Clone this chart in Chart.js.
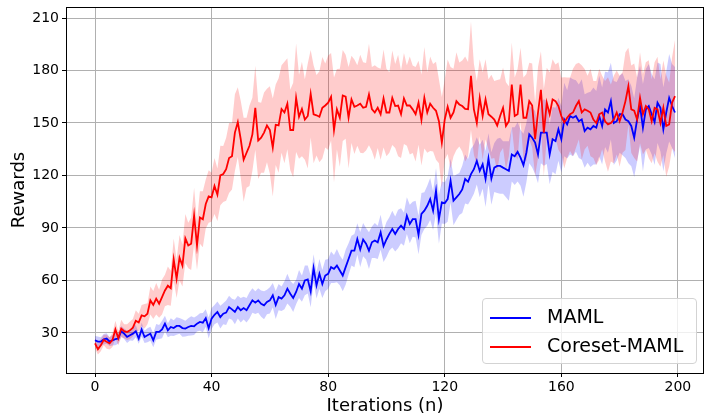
<!DOCTYPE html>
<html>
<head>
<meta charset="utf-8">
<script src="https://cdn.jsdelivr.net/npm/chart.js@4.4.1/dist/chart.umd.min.js"></script>
<style>
  body { margin: 0; background: #fff; }
  #wrap { position: relative; width: 704px; height: 414px; }
  #legend {
    position: absolute; left: 482px; top: 298px; width: 213px; height: 64px;
    border: 1px solid #d3d3d3; border-radius: 4px; background: rgba(255,255,255,0.8);
    font-family: "DejaVu Sans", sans-serif; font-size: 19px; color: #000;
  }
  .row { position: absolute; left: 7px; height: 24px; line-height: 24px; white-space: nowrap; }
  .row span.l { display: inline-block; width: 41px; height: 2px; vertical-align: middle; margin-right: 16px; }
</style>
</head>
<body>
<div id="wrap">
  <canvas id="canvas" width="704" height="414"></canvas>
  <div id="legend">
    <div class="row" style="top:5px"><span class="l" style="background:#0000ff"></span>MAML</div>
    <div class="row" style="top:34px"><span class="l" style="background:#ff0000"></span>Coreset-MAML</div>
  </div>
</div>
<script>
var xTicks = [0, 40, 80, 120, 160, 200];
var yTicks = [30, 60, 90, 120, 150, 180, 210];

// Coreset-MAML mean reward per iteration
var coresetMean = [
  24, 20.7, 23, 26, 25, 24, 26, 32, 27, 32.5,
  31, 30.5, 31.5, 33, 37, 36, 40, 39.5, 41, 48.6,
  46, 49.6, 46.7, 50.5, 54.3, 57, 55.6, 72, 61, 73,
  68.5, 84, 80, 81, 97, 80, 96, 95, 103.7, 108,
  107.5, 114, 109, 120, 120.8, 123.6, 130, 131, 144.5, 150.5,
  140.7, 129, 133, 137, 143.5, 158.7, 140, 141.6, 144.5, 148.6,
  146, 136, 149, 148.6, 158, 156, 161, 146, 146, 164.4,
  153.6, 158, 152, 154, 166.7, 155, 154.4, 153.6, 158.7, 160,
  161.6, 165, 146, 157.8, 153, 165.7, 165, 153, 163.5, 159.3,
  160, 161, 158.7, 159.3, 166.3, 158, 156, 158.7, 155, 164,
  156, 156, 164.4, 159.7, 160, 155, 164, 160, 160, 157.8,
  155, 161.6, 151.7, 164.4, 156, 161, 158.7, 157, 151, 138.8,
  152, 159.3, 153, 156, 162.5, 160.6, 159.7, 158, 157.8, 177,
  157.8, 150, 164.4, 154, 163.5, 155, 153.6, 152, 148.6, 154,
  158.7, 148.3, 151, 172, 154, 155, 172, 153, 153, 162.5,
  160, 140.7, 156, 169, 144.5, 161.6, 155, 163.5, 162.5, 159.7,
  154, 150.2, 153, 155, 156, 159.7, 162.5, 156, 157.8, 157,
  156, 152, 150, 155, 156, 151, 149.2, 150, 152, 156,
  151, 156, 162.5, 171, 157.8, 157, 152, 164.4, 155, 159.7,
  157.8, 151, 158.7, 157.8, 150, 158.7, 148.3, 149.2, 161.6, 165.4
];
var coresetStd = [
  3, 3, 3.5, 3, 4, 3.5, 4, 5, 4, 5,
  4, 4.5, 5, 5, 6, 5, 6, 7, 6, 8,
  8, 9, 8, 10, 9, 11, 10, 12, 11, 13,
  12, 14, 13, 15, 16, 14, 15, 16, 14, 15,
  14, 16, 15, 17, 16, 18, 20, 19, 22, 20,
  22, 24, 20, 23, 21, 24, 22, 20, 23, 21,
  25, 28, 23, 27, 25, 29, 26, 23, 27, 31,
  24, 27, 23, 30, 25, 28, 23, 26, 29, 24,
  27, 25, 30, 23, 28, 26, 24, 29, 25, 27,
  23, 28, 26, 25, 29, 24, 27, 23, 26, 28,
  25, 23, 27, 24, 29, 25, 26, 23, 28, 25,
  27, 24, 26, 29, 23, 27, 25, 28, 24, 26,
  23, 27, 29, 25, 28, 24, 26, 30, 27, 31,
  26, 24, 22, 25, 23, 20, 24, 22, 26, 21,
  23, 25, 20, 24, 22, 26, 21, 23, 25, 22,
  24, 21, 26, 22, 25, 20, 24, 23, 21, 25,
  22, 26, 23, 21, 25, 24, 22, 27, 23, 20,
  25, 22, 24, 26, 21, 23, 27, 22, 25, 24,
  26, 23, 28, 22, 25, 27, 24, 26, 23, 25,
  28, 24, 26, 30, 25, 27, 29, 24, 26, 32
];

// MAML mean reward per iteration
var mamlMean = [
  25.8, 25, 25, 26.4, 26.8, 25, 25.8, 26.4, 26.8, 31,
  29.6, 27.7, 28.7, 29.6, 31, 26.8, 32, 27.7, 28.7, 29.6,
  25.8, 30.6, 30.6, 32, 35.3, 31.5, 33.4, 32.8, 34, 34,
  32.8, 32.5, 33.4, 34, 33.8, 35.3, 36.3, 35.9, 38.5, 32.8,
  38.2, 40.4, 42, 39, 41, 41.6, 44.8, 43.5, 42, 44.8,
  43, 44.2, 43, 45.8, 48.6, 47.3, 48.6, 46.7, 45.8, 47.7,
  48.6, 51.5, 46, 50.5, 49.6, 51.5, 55.3, 52.4, 50, 53.4,
  58, 55.3, 60, 60.6, 53.7, 67, 57.2, 63.8, 58, 62.8,
  63.8, 67.6, 66.6, 68.5, 65.7, 62.8, 67.6, 72.3, 77, 77,
  83.7, 77.7, 83.4, 81, 77, 81.8, 82.8, 81.8, 87.5, 79.6,
  83.4, 86.6, 89.4, 86.6, 89.4, 91.3, 89.4, 97, 92.3, 95,
  95, 86, 98, 99.9, 102.7, 106.5, 99.9, 111.3, 95, 104.6,
  104.2, 106.5, 117, 105.6, 107.5, 109.4, 112, 118, 116.4, 120.8,
  123.6, 128.3, 122.6, 126.4, 118, 129.7, 118.3, 124.5, 125.5, 125.5,
  124.5, 123.6, 122.6, 132, 131, 133.5, 130.2, 125.9, 133, 143.5,
  141.6, 138.8, 132, 144.5, 144.5, 144.5, 132, 140.7, 139.7, 146.4,
  140.7, 152, 149.2, 154, 153, 154, 151, 152, 145.4, 147.3,
  146.4, 148.3, 147.3, 154, 148.3, 157.8, 156, 162.5, 150, 151,
  155, 155, 152, 151, 148.3, 141.6, 152, 159.7, 147.3, 157.8,
  159.7, 155, 150.5, 161.6, 158.7, 146.4, 156, 164.4, 159.7, 156
];
var mamlStd = [
  2.5, 3, 2.5, 3, 3, 2.5, 3, 3.5, 3, 3,
  3, 3.5, 3, 4, 3.5, 3, 4, 3.5, 4, 4,
  4, 4.5, 4, 5, 4.5, 4, 5, 4.5, 5, 4.5,
  5, 4.5, 5, 5.5, 5, 4.5, 5, 5.5, 5, 6,
  6, 5.5, 6, 6.5, 6, 7, 6.5, 6, 7, 6.5,
  7, 6.5, 7, 7.5, 7, 6.5, 7, 7.5, 8, 7,
  7.5, 7, 8, 7.5, 7, 8, 8.5, 7.5, 8, 7,
  8, 7.5, 8.5, 8, 9, 8, 7.5, 8.5, 8, 9,
  8.5, 9, 8, 9.5, 8.5, 9, 10, 9, 8.5, 9.5,
  9, 10, 9.5, 9, 10.5, 9, 10, 9.5, 10, 9,
  10, 9.5, 10.5, 10, 11, 10, 9.5, 10.5, 11, 10,
  10.5, 11, 12, 10.5, 11.5, 12, 11, 13, 14, 12,
  12, 13, 12.5, 14, 13, 12, 13.5, 14, 13, 14.5,
  14, 13.5, 15, 14, 16, 14.5, 15, 14, 15.5, 16,
  15, 16, 17, 15.5, 16.5, 17, 16, 18, 17, 16.5,
  17, 18, 16.5, 17.5, 19, 18, 17, 18.5, 19, 18,
  19, 21, 19.5, 22, 22, 20.5, 21, 23, 21, 20,
  21.5, 22, 21, 23, 22, 21.5, 23, 22, 24, 22.5,
  22, 23.5, 22, 24, 23, 22.5, 24, 23, 25, 23,
  24, 23, 24.5, 23, 25, 24, 23.5, 25, 24, 26
];

function pts(mean, std, sign) {
  return mean.map(function (v, i) { return { x: i, y: v + sign * std[i] }; });
}

var lineOpts = { pointRadius: 0, borderWidth: 1.8, fill: false, tension: 0 };
var bandOpts = { pointRadius: 0, borderWidth: 0, tension: 0 };

var frame = {
  id: 'frame',
  afterDraw: function (chart) {
    var a = chart.chartArea, c = chart.ctx;
    c.save();
    c.strokeStyle = '#000';
    c.lineWidth = 1;
    c.strokeRect(Math.round(a.left) + 0.5, Math.round(a.top) + 0.5,
      Math.round(a.right - a.left) - 1, Math.round(a.bottom - a.top));
    c.restore();
  }
};

window.onload = function () {
  var ctx = document.getElementById('canvas').getContext('2d');
  window.myChart = new Chart(ctx, {
    type: 'line',
    data: {
      datasets: [
        Object.assign({ label: 'Coreset-MAML', data: pts(coresetMean, coresetStd, 0), borderColor: '#ff0000' }, lineOpts),
        Object.assign({ label: 'MAML', data: pts(mamlMean, mamlStd, 0), borderColor: '#0000ff' }, lineOpts),
        Object.assign({ label: 'c-lo', data: pts(coresetMean, coresetStd, -1), fill: false }, bandOpts),
        Object.assign({ label: 'c-hi', data: pts(coresetMean, coresetStd, 1), fill: { target: 2 }, backgroundColor: 'rgba(255,0,0,0.2)' }, bandOpts),
        Object.assign({ label: 'm-lo', data: pts(mamlMean, mamlStd, -1), fill: false }, bandOpts),
        Object.assign({ label: 'm-hi', data: pts(mamlMean, mamlStd, 1), fill: { target: 4 }, backgroundColor: 'rgba(0,0,255,0.2)' }, bandOpts)
      ]
    },
    options: {
      responsive: false,
      animation: false,
      events: [],
      layout: { padding: { top: 7, right: 0, left: 0, bottom: 0 } },
      plugins: { legend: { display: false }, tooltip: { enabled: false } },
      scales: {
        x: {
          type: 'linear', min: -9.95, max: 208.95,
          afterBuildTicks: function (s) { s.ticks = xTicks.map(function (v) { return { value: v }; }); },
          afterFit: function (s) { s.height = 41; s.paddingLeft = 0; s.paddingRight = 0; },
          grid: { color: '#b0b0b0', tickColor: '#000', tickLength: 4 },
          border: { display: false },
          ticks: { color: '#000', font: { family: 'DejaVu Sans', size: 14 }, padding: 2, maxRotation: 0 },
          title: { display: true, text: 'Iterations (n)', color: '#000', font: { family: 'DejaVu Sans', size: 18 }, padding: { top: 0, bottom: -3 } }
        },
        y: {
          min: 7.1, max: 216.3,
          afterBuildTicks: function (s) { s.ticks = yTicks.map(function (v) { return { value: v }; }); },
          afterFit: function (s) { s.width = 66; s.paddingTop = 0; s.paddingBottom = 0; },
          grid: { color: '#b0b0b0', tickColor: '#000', tickLength: 4 },
          border: { display: false },
          ticks: { color: '#000', font: { family: 'DejaVu Sans', size: 14 }, padding: 3 },
          title: { display: true, text: 'Rewards', color: '#000', font: { family: 'DejaVu Sans', size: 18 }, padding: { top: 9, bottom: 0 } }
        }
      }
    },
    plugins: [frame]
  });
};
</script>
</body>
</html>
